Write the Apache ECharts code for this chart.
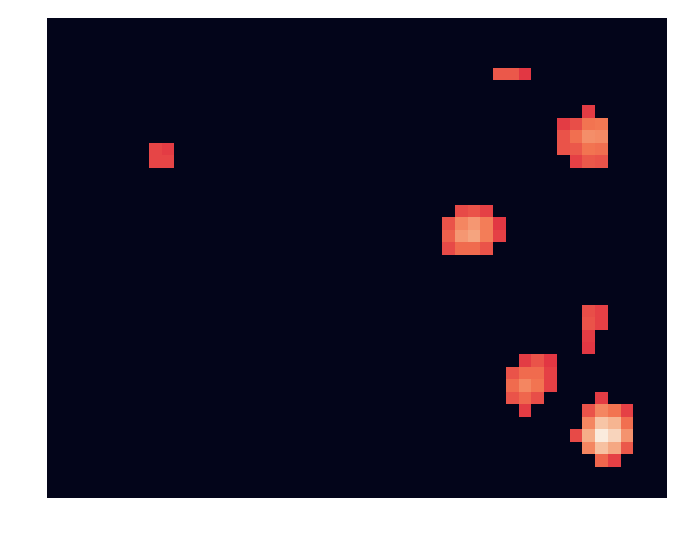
<!DOCTYPE html>
<html>
<head>
<meta charset="utf-8">
<script src="https://cdn.jsdelivr.net/npm/echarts@6/dist/echarts.min.js"></script>
<style>
  html, body { margin: 0; padding: 0; background: #fff; }
  #chart { width: 677px; height: 545px; }
</style>
</head>
<body>
<div id="chart"></div>
<script>
// grid size in cells (last column / row only partly visible)
const nCols = 49;
const nRows = 39;
const visibleCols = 48.63;
const visibleRows = 38.52;

// rocket colormap stops
const rocket = ['#03051a', '#35193e', '#701f57', '#ad1759', '#e13342', '#f37651', '#f6b48f', '#faebdd'];

// non-zero cells: [col, row, value]; every other cell is 0
const spotA = [[8, 10, 61], [9, 10, 59], [8, 11, 61], [9, 11, 61]];
const spotB = [[35, 4, 65], [36, 4, 65], [37, 4, 58]];
const spotC = [
  [42, 7, 59],
  [40, 8, 59], [41, 8, 63], [42, 8, 71], [43, 8, 72],
  [40, 9, 64], [41, 9, 70], [42, 9, 77], [43, 9, 76],
  [40, 10, 64], [41, 10, 65], [42, 10, 71], [43, 10, 70],
  [41, 11, 60], [42, 11, 65], [43, 11, 64]
];
const spotD = [
  [32, 15, 62], [33, 15, 64], [34, 15, 60],
  [31, 16, 64], [32, 16, 75], [33, 16, 79], [34, 16, 73], [35, 16, 58],
  [31, 17, 67], [32, 17, 79], [33, 17, 82], [34, 17, 73], [35, 17, 60],
  [31, 18, 62], [32, 18, 69], [33, 18, 69], [34, 18, 64]
];
const spotE = [
  [42, 23, 63], [43, 23, 60],
  [42, 24, 64], [43, 24, 60],
  [42, 25, 59],
  [42, 26, 58]
];
const spotF = [
  [37, 27, 59], [38, 27, 64], [39, 27, 58],
  [36, 28, 64], [37, 28, 69], [38, 28, 69], [39, 28, 60],
  [36, 29, 69], [37, 29, 75], [38, 29, 71], [39, 29, 60],
  [36, 30, 64], [37, 30, 68], [38, 30, 63],
  [37, 31, 59]
];
const spotG = [
  [43, 30, 59],
  [42, 31, 64], [43, 31, 75], [44, 31, 71], [45, 31, 60],
  [42, 32, 75], [43, 32, 90], [44, 32, 86], [45, 32, 70],
  [41, 33, 62], [42, 33, 84], [43, 33, 100], [44, 33, 94], [45, 33, 78],
  [42, 34, 75], [43, 34, 89], [44, 34, 83], [45, 34, 65],
  [43, 35, 68], [44, 35, 60]
];

const spots = [].concat(spotA, spotB, spotC, spotD, spotE, spotF, spotG);
const lookup = {};
spots.forEach((d) => { lookup[d[0] + ',' + d[1]] = d[2]; });

const cells = [];
for (let r = 0; r < nRows; r += 1) {
  for (let c = 0; c < nCols; c += 1) {
    cells.push([c, r, lookup[c + ',' + r] || 0]);
  }
}

const chart = echarts.init(document.getElementById('chart'));
chart.setOption({
  backgroundColor: '#ffffff',
  animation: false,
  grid: {
    show: true, left: 47, top: 18, width: 620, height: 480,
    backgroundColor: rocket[0], borderWidth: 0
  },
  xAxis: { type: 'value', min: 0, max: visibleCols, show: false },
  yAxis: { type: 'value', min: 0, max: visibleRows, inverse: true, show: false },
  visualMap: {
    show: false,
    type: 'continuous',
    min: 0,
    max: 100,
    dimension: 2,
    inRange: { color: rocket }
  },
  series: [{
    type: 'custom',
    clip: true,
    data: cells,
    renderItem(params, api) {
      const p0 = api.coord([api.value(0), api.value(1)]);
      const p1 = api.coord([api.value(0) + 1, api.value(1) + 1]);
      // snap to whole pixels so neighbouring cells meet without seams
      const x0 = Math.round(p0[0]);
      const y0 = Math.round(p0[1]);
      const x1 = Math.round(p1[0]);
      const y1 = Math.round(p1[1]);
      return {
        type: 'rect',
        shape: { x: x0, y: y0, width: x1 - x0, height: y1 - y0 },
        style: { fill: api.visual('color') }
      };
    }
  }]
});
</script>
</body>
</html>
